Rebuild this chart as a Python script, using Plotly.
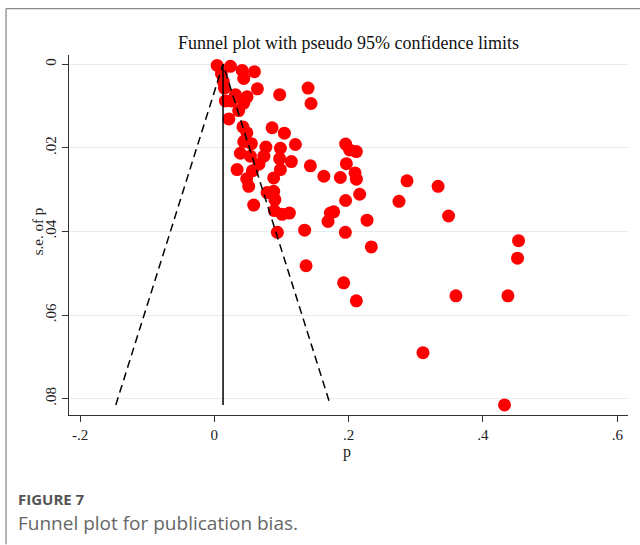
import plotly.graph_objects as go

# Effect estimates (p) and their standard errors
p = [0.0042, 0.024, 0.0106, 0.0135, 0.015, 0.0414, 0.0597, 0.0438, 0.0641, 0.1396,
     0.0973, 0.0314, 0.0488, 0.0438, 0.0165, 0.0254, 0.1440, 0.0363, 0.0217, 0.0426,
     0.0860, 0.0485, 0.1043, 0.0438, 0.0552, 0.1207, 0.0768, 0.0984, 0.0388, 0.0537,
     0.0738, 0.0973, 0.1147, 0.1430, 0.0664, 0.0339, 0.0567, 0.0984, 0.0482, 0.0884,
     0.0512, 0.0786, 0.0884, 0.0902, 0.0586, 0.0894, 0.1009, 0.1118, 0.0939, 0.1345,
     0.1955, 0.2015, 0.2115, 0.1966, 0.1631, 0.1877, 0.2095, 0.2115, 0.2869, 0.3332,
     0.2164, 0.1955, 0.2750, 0.1777, 0.1728, 0.1693, 0.2274, 0.3488, 0.1951, 0.2338,
     0.4530, 0.4515, 0.1366, 0.1926, 0.2115, 0.3598, 0.4372, 0.3107, 0.4321]
se = [0.0003, 0.0005, 0.0023, 0.0042, 0.0057, 0.0015, 0.0018, 0.0034, 0.0059, 0.0057,
      0.0073, 0.0073, 0.0078, 0.0093, 0.0088, 0.0088, 0.0094, 0.0111, 0.0131, 0.0150,
      0.0152, 0.0164, 0.0165, 0.0185, 0.0190, 0.0192, 0.0198, 0.0201, 0.0213, 0.0220,
      0.0220, 0.0226, 0.0233, 0.0243, 0.0239, 0.0252, 0.0255, 0.0252, 0.0274, 0.0272,
      0.0292, 0.0307, 0.0304, 0.0324, 0.0337, 0.0350, 0.0359, 0.0356, 0.0402, 0.0397,
      0.0191, 0.0205, 0.0209, 0.0238, 0.0268, 0.0271, 0.0260, 0.0275, 0.0279, 0.0292,
      0.0311, 0.0326, 0.0328, 0.0353, 0.0356, 0.0376, 0.0373, 0.0363, 0.0402, 0.0437,
      0.0422, 0.0464, 0.0482, 0.0523, 0.0566, 0.0554, 0.0554, 0.0690, 0.0815]

pooled = 0.013
z = 1.96
x_ticks = [-0.2, 0, 0.2, 0.4, 0.6]
x_ticklabels = ["-.2", "0", ".2", ".4", ".6"]
y_ticks = [0, 0.02, 0.04, 0.06, 0.08]
y_ticklabels = ["0", ".02", ".04", ".06", ".08"]

se_max = max(se)
serif = "Liberation Serif, Times New Roman, serif"
sans = "Open Sans, sans-serif"

fig = go.Figure()
fig.add_trace(go.Scatter(x=p, y=se, mode="markers",
                         marker=dict(color="#ff0000", size=13, line=dict(width=0)),
                         hoverinfo="x+y", showlegend=False))
fig.add_trace(go.Scatter(x=[pooled, pooled], y=[0, se_max], mode="lines",
                         line=dict(color="black", width=1.5), showlegend=False))
fig.add_trace(go.Scatter(x=[pooled - z * se_max, pooled, pooled + z * se_max],
                         y=[se_max, 0, se_max], mode="lines",
                         line=dict(color="black", width=1.5, dash="8px,5px"),
                         showlegend=False))

L, R, T, B = 68.5, 628.0, 55.0, 415.5
W, H = 640, 545
pw, ph = R - L, B - T

def px(x):
    return (x - L) / pw

def py(y):
    return (B - y) / ph

fig.update_layout(
    width=W, height=H,
    margin=dict(l=L, r=W - R, t=T, b=H - B, pad=0),
    paper_bgcolor="white", plot_bgcolor="white",
    xaxis=dict(range=[-0.2164, 0.616], tickvals=x_ticks, ticktext=x_ticklabels,
               showgrid=False, zeroline=False, showline=True, linecolor="#333",
               linewidth=1, ticks="outside", ticklen=6, tickcolor="#333",
               tickfont=dict(family=serif, size=15, color="#222")),
    yaxis=dict(range=[0.0839, -0.0022], tickvals=y_ticks, ticktext=y_ticklabels,
               showgrid=True, gridcolor="#e4edf0", gridwidth=1, zeroline=False,
               showline=True, linecolor="#333", linewidth=1, ticks="outside",
               ticklen=6, tickcolor="#333", tickangle=-90,
               tickfont=dict(family=serif, size=15, color="#222")),
    annotations=[
        dict(text="Funnel plot with pseudo 95% confidence limits", x=0.5,
             y=py(43), xref="paper", yref="paper", showarrow=False,
             xanchor="center", yanchor="middle",
             font=dict(family=serif, size=18, color="#111")),
        dict(text="p", x=px(347), y=py(453), xref="paper", yref="paper",
             showarrow=False, xanchor="center", yanchor="middle",
             font=dict(family=serif, size=16, color="#222")),
        dict(text="s.e. of p", x=px(37), y=py(232), xref="paper", yref="paper",
             showarrow=False, xanchor="center", yanchor="middle", textangle=-90,
             font=dict(family=serif, size=15, color="#222")),
        dict(text="<b>FIGURE 7</b>", x=px(15), y=py(500), xref="paper", yref="paper",
             showarrow=False, xanchor="left", yanchor="middle",
             font=dict(family=sans, size=15, color="#555")),
        dict(text="Funnel plot for publication bias.", x=px(15), y=py(524),
             xref="paper", yref="paper", showarrow=False, xanchor="left",
             yanchor="middle",
             font=dict(family=sans, size=19, color="#666")),
    ],
    shapes=[
        dict(type="line", xref="paper", yref="paper", x0=px(5.5), x1=px(640),
             y0=py(8.5), y1=py(8.5), line=dict(color="#8a8a8a", width=1.3)),
        dict(type="line", xref="paper", yref="paper", x0=px(5.5), x1=px(5.5),
             y0=py(8.5), y1=py(545), line=dict(color="#8a8a8a", width=1.3)),
    ],
)

fig.write_html("out.html", config={"displayModeBar": False},
               post_script="document.body.style.margin='0';"
                           "document.body.style.overflow='hidden';")
